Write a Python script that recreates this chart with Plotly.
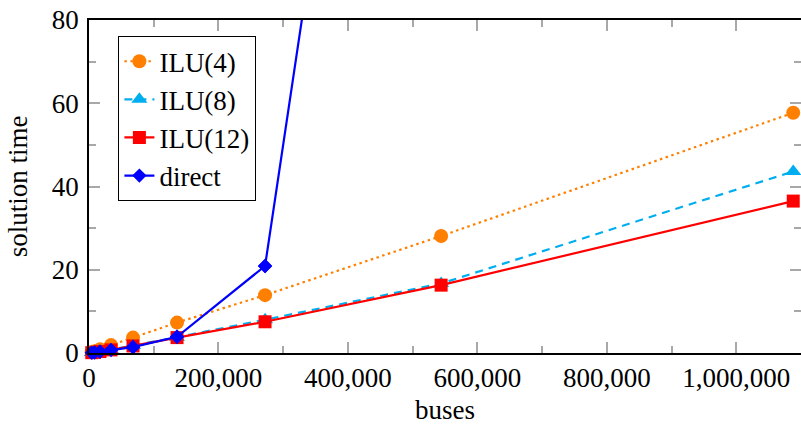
import plotly.graph_objects as go

buses = [4250, 8500, 17000, 34000, 68000, 136000, 272000, 544000, 1088000]
ilu4 = [0.2, 0.45, 0.9, 1.9, 3.7, 7.3, 13.9, 28.1, 57.7]
ilu8 = [0.1, 0.2, 0.4, 0.8, 1.8, 3.8, 8.0, 16.7, 43.6]
ilu12 = [0.08, 0.17, 0.35, 0.75, 1.7, 3.7, 7.5, 16.3, 36.5]
direct_buses = [4250, 8500, 17000, 34000, 68000, 136000, 272000, 544000]
direct = [0.05, 0.1, 0.3, 0.7, 1.4, 3.9, 20.9, 304.0]

x_ticks = [0, 200000, 400000, 600000, 800000, 1000000]
y_ticks = [0, 20, 40, 60, 80]

FONT = "Liberation Serif"
ORANGE = "#FF8000"
CYAN = "#00AEEF"
RED = "#FF0000"
BLUE = "#0000FF"

fig = go.Figure()
fig.add_trace(go.Scatter(x=buses, y=ilu4, name="ILU(4)", mode="lines+markers",
                         line=dict(color=ORANGE, width=2.2, dash="2.5px,3.5px"),
                         marker=dict(symbol="circle", size=14, color=ORANGE),
                         cliponaxis=False))
fig.add_trace(go.Scatter(x=buses, y=ilu8, name="ILU(8)", mode="lines+markers",
                         line=dict(color=CYAN, width=2.2, dash="8px,6px"),
                         marker=dict(symbol="triangle-up", size=14, color=CYAN),
                         cliponaxis=False))
fig.add_trace(go.Scatter(x=buses, y=ilu12, name="ILU(12)", mode="lines+markers",
                         line=dict(color=RED, width=2.2),
                         marker=dict(symbol="square", size=13, color=RED),
                         cliponaxis=False))
fig.add_trace(go.Scatter(x=direct_buses, y=direct, name="direct", mode="lines+markers",
                         line=dict(color=BLUE, width=2.2),
                         marker=dict(symbol="diamond", size=11, color=BLUE),
                         cliponaxis=True))
fig.add_trace(go.Scatter(x=direct_buses[:7], y=direct[:7], mode="markers",
                         marker=dict(symbol="diamond", size=11, color=BLUE),
                         showlegend=False, cliponaxis=False, hoverinfo="skip"))

axis_common = dict(
    showline=True, linecolor="black", linewidth=1.5, mirror="ticks",
    showgrid=False, zeroline=False, ticks="inside", ticklen=11, tickwidth=1.5,
    tickcolor="#A8A8A8", tickfont=dict(family=FONT, size=27, color="black"),
    automargin=False,
)

fig.update_layout(
    width=801, height=433,
    margin=dict(l=89, r=0, t=20, b=80),
    paper_bgcolor="white", plot_bgcolor="white",
    font=dict(family=FONT, size=27, color="black"),
    xaxis=dict(range=[0, 1100000], tickvals=x_ticks, tickformat=",d",
               ticklabelstandoff=0,
               minor=dict(ticks="inside", ticklen=7, tickwidth=1.5, tickcolor="#A8A8A8", dtick=100000),
               **axis_common),
    yaxis=dict(range=[0, 80], tickvals=y_ticks, ticklabelstandoff=3,
               minor=dict(ticks="inside", ticklen=7, tickwidth=1.5, tickcolor="#A8A8A8", dtick=10),
               **axis_common),
    legend=dict(x=0.041, y=0.952, xanchor="left", yanchor="top",
                bgcolor="white", bordercolor="black", borderwidth=1.2,
                font=dict(family=FONT, size=27), tracegroupgap=0),
    showlegend=True,
    annotations=[
        dict(text="buses", xref="paper", yref="paper", x=0.5, y=-0.172,
             xanchor="center", yanchor="middle", showarrow=False,
             font=dict(family=FONT, size=27, color="black")),
        dict(text="solution time", xref="paper", yref="paper", x=-0.1, y=0.5,
             xanchor="center", yanchor="middle", showarrow=False, textangle=-90,
             font=dict(family=FONT, size=27, color="black")),
    ],
)

fig.write_html("out.html", config={"displayModeBar": False},
               post_script="document.body.style.margin='0';")
